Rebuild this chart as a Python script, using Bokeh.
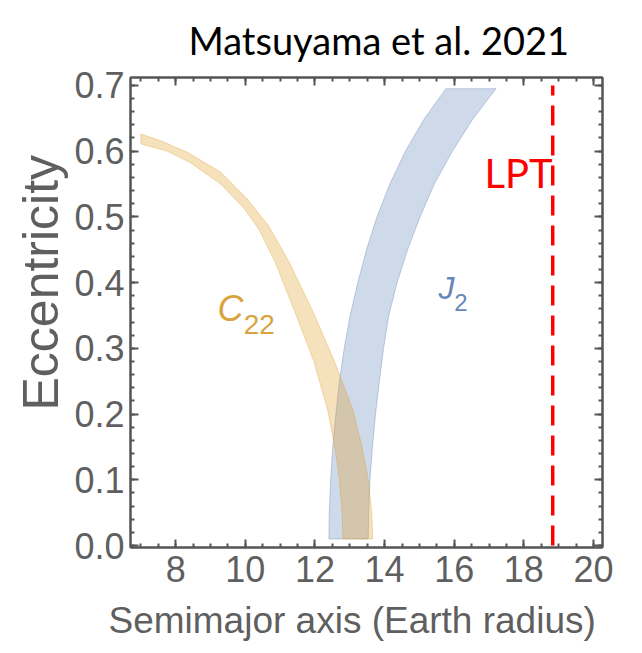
from bokeh.plotting import figure
from bokeh.models import Range1d, FixedTicker, LinearAxis, Label, PrintfTickFormatter, Title
from bokeh.embed import file_html
from bokeh.resources import INLINE

# C22 band: inner (left/lower) and outer (right/upper) edges, semimajor axis vs eccentricity
c22_inner_ecc = [0.01, 0.05, 0.10, 0.15, 0.205, 0.28, 0.356, 0.432, 0.48, 0.513, 0.55, 0.583, 0.60, 0.611]
c22_inner_a = [12.80, 12.78, 12.70, 12.57, 12.37, 11.97, 11.42, 10.85, 10.40, 9.96, 9.29, 8.40, 7.75, 7.00]
c22_outer_ecc = [0.01, 0.05, 0.10, 0.15, 0.205, 0.28, 0.356, 0.432, 0.487, 0.528, 0.568, 0.598, 0.615, 0.626]
c22_outer_a = [13.66, 13.63, 13.53, 13.35, 13.10, 12.56, 11.94, 11.25, 10.66, 10.04, 9.29, 8.34, 7.60, 7.00]

# J2 band: left and right edges
j2_ecc = [0.01, 0.05, 0.10, 0.15, 0.20, 0.25, 0.30, 0.35, 0.40, 0.45, 0.50, 0.55, 0.60, 0.65, 0.695]
j2_left_a = [12.40, 12.41, 12.45, 12.51, 12.60, 12.70, 12.84, 13.01, 13.23, 13.48, 13.78, 14.15, 14.60, 15.15, 15.76]
j2_right_a = [13.53, 13.54, 13.58, 13.65, 13.74, 13.85, 13.97, 14.12, 14.36, 14.66, 15.02, 15.43, 15.95, 16.55, 17.20]

# LPT boundary
lpt_a = 18.83
lpt_ecc = [0.0, 0.70]

x_ticks = [8, 10, 12, 14, 16, 18, 20]
x_minor = [7 + 0.5 * i for i in range(28)]
y_ticks = [0.0, 0.1, 0.2, 0.3, 0.4, 0.5, 0.6, 0.7]
y_minor = [round(0.02 * i, 2) for i in range(36)]

ORANGE = "#e19c24"
BLUE = "#5e81b5"
FRAME = "#555555"
TEXT = "#5f5f5f"

p = figure(width=642, height=653, output_backend="svg", toolbar_location=None,
           x_range=Range1d(6.7, 20.26), y_range=Range1d(-0.003, 0.712),
           min_border_left=130, min_border_right=40, min_border_top=75, min_border_bottom=106,
           background_fill_color="white", border_fill_color="white")
p.grid.visible = False
p.outline_line_color = FRAME
p.outline_line_width = 2

# title
p.title.text = "Matsuyama et al. 2021"
p.title.align = "left"
p.title.offset = 58
p.title.standoff = 29
p.title.text_font = "Lato"
p.title.text_font_size = "38px"
p.title.text_font_style = "normal"
p.title.text_color = "black"

# bands
j2_xs = j2_left_a + j2_right_a[::-1]
j2_ys = j2_ecc + j2_ecc[::-1]
p.patch(j2_xs, j2_ys, fill_color=BLUE, fill_alpha=0.3, line_color=BLUE, line_alpha=0.35, line_width=1)

c22_xs = c22_outer_a + c22_inner_a[::-1]
c22_ys = c22_outer_ecc + c22_inner_ecc[::-1]
p.patch(c22_xs, c22_ys, fill_color=ORANGE, fill_alpha=0.3, line_color=ORANGE, line_alpha=0.35, line_width=1)

# LPT line
p.line([lpt_a, lpt_a], lpt_ecc, line_color="#ff0000", line_width=3.5, line_dash="20 10")

# curve labels
p.add_layout(Label(x=9.2, y=0.330, text="C", text_font="Liberation Sans", text_font_style="italic",
                   text_font_size="36px", text_color="#d9a43e"))
p.add_layout(Label(x=9.95, y=0.322, text="22", text_font="Liberation Sans",
                   text_font_size="28px", text_color="#d9a43e"))
p.add_layout(Label(x=15.55, y=0.365, text="J", text_font="Liberation Sans", text_font_style="italic",
                   text_font_size="32px", text_color="#6787bb"))
p.add_layout(Label(x=16.0, y=0.357, text="2", text_font="Liberation Sans",
                   text_font_size="24px", text_color="#6787bb"))
p.add_layout(Label(x=18.83, y=0.53, text="LPT", text_font="Lato", text_align="right",
                   text_font_size="40px", text_color="#ff0000"))


def style_axis(ax, ticks, minor, fmt, show_labels):
    ax.ticker = FixedTicker(ticks=ticks, minor_ticks=minor)
    ax.formatter = PrintfTickFormatter(format=fmt)
    ax.axis_line_color = FRAME
    ax.axis_line_width = 2
    ax.major_tick_line_color = FRAME
    ax.major_tick_line_width = 2
    ax.minor_tick_line_color = FRAME
    ax.minor_tick_line_width = 2
    ax.major_tick_in = 8
    ax.major_tick_out = 0
    ax.minor_tick_in = 4
    ax.minor_tick_out = 0
    ax.major_label_text_font = "Liberation Sans"
    ax.major_label_text_font_size = "36px"
    ax.major_label_text_color = TEXT
    if not show_labels:
        ax.major_label_overrides = {t: "" for t in ticks}
        ax.major_label_standoff = 0


xa = p.xaxis[0]
style_axis(xa, x_ticks, x_minor, "%d", True)
xa.major_label_standoff = 8

ya = p.yaxis[0]
style_axis(ya, y_ticks, y_minor, "%.1f", True)
ya.major_label_standoff = 6

top_ax = LinearAxis()
style_axis(top_ax, x_ticks, x_minor, "%d", False)
p.add_layout(top_ax, "above")
right_ax = LinearAxis()
style_axis(right_ax, y_ticks, y_minor, "%.1f", False)
p.add_layout(right_ax, "right")

# axis titles as side titles so they can be shifted along the frame
x_title = Title(text="Semimajor axis (Earth radius)", align="left", offset=-22, standoff=26,
                text_font="Liberation Sans", text_font_size="37px", text_font_style="normal",
                text_color=TEXT)
p.add_layout(x_title, "below")
y_title = Title(text="Eccentricity", align="left", offset=137, standoff=6,
                text_font="Liberation Sans", text_font_size="50px", text_font_style="normal",
                text_color=TEXT)
p.add_layout(y_title, "left")

open("out.html", "w").write(file_html(p, INLINE))
